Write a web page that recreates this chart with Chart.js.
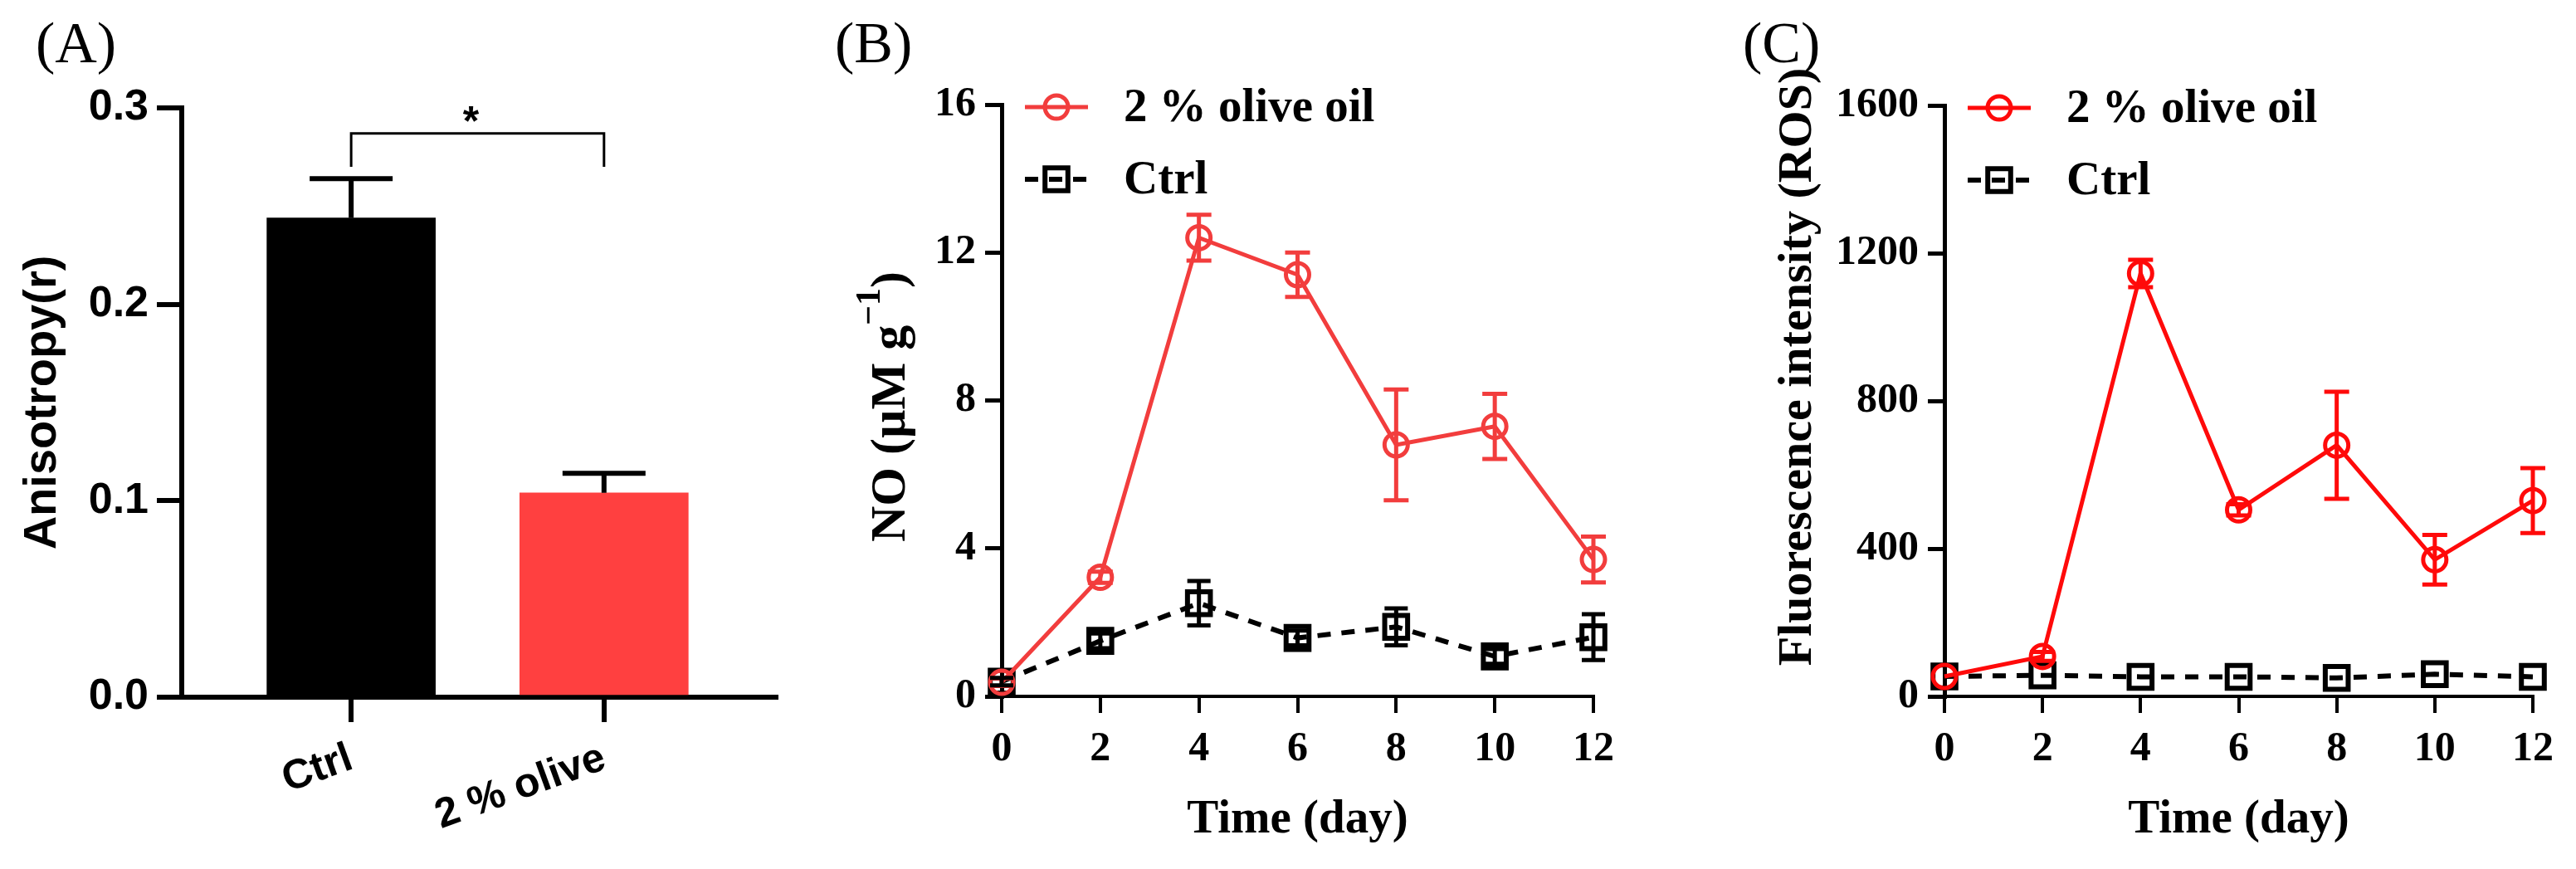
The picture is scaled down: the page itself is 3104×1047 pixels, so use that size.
<!DOCTYPE html>
<html>
<head>
<meta charset="utf-8">
<script src="https://cdn.jsdelivr.net/npm/chart.js@4.4.1/dist/chart.umd.min.js"></script>
<style>
    html, body { margin: 0; padding: 0; background: #fff; }
    body { width: 3104px; height: 1047px; position: relative; overflow: hidden; }
    canvas { position: absolute; top: 0; }
</style>
</head>
<body>
<canvas id="chart_a" width="960" height="1047" style="left: 0px;"></canvas>
<canvas id="chart_b" width="1100" height="1047" style="left: 960px;"></canvas>
<canvas id="chart_c" width="1044" height="1047" style="left: 2060px;"></canvas>
<script>
// DADOS
const grupos = ['Ctrl', '2 % olive'];
const anisotropia = [0.244, 0.104];
const anisotropia_erro = [0.020, 0.010];
const ticks_aniso = [0.0, 0.1, 0.2, 0.3];

const dias = [0, 2, 4, 6, 8, 10, 12];

const no_oliva = [0.38, 3.22, 12.4, 11.4, 6.8, 7.3, 3.7];
const no_oliva_erro = [0.1, 0.15, 0.62, 0.6, 1.5, 0.88, 0.62];
const no_ctrl = [0.4, 1.5, 2.52, 1.58, 1.88, 1.08, 1.6];
const no_ctrl_erro = [0.1, 0.2, 0.6, 0.2, 0.5, 0.2, 0.62];

const ros_oliva = [54, 108, 1145, 505, 680, 370, 530];
const ros_oliva_erro = [0, 12, 37, 15, 145, 67, 88];
const ros_ctrl = [54, 57, 53, 53, 50, 60, 53];

Chart.defaults.color = '#000';

const serif = 'Liberation Serif';
const sans = 'Liberation Sans';
const vermelho_b = '#F23D3D';
const vermelho_c = '#FF0A0A';

// barras de erro desenhadas por cima dos pontos
const barrasDeErro = {
    id: 'barrasDeErro',
    afterDatasetsDraw(chart) {
        const ctx = chart.ctx;
        const sx = chart.scales.x;
        const sy = chart.scales.y;
        chart.data.datasets.forEach((ds) => {
            if (!ds.erros) return;
            ctx.save();
            ctx.strokeStyle = ds.corErro || ds.borderColor;
            ctx.lineWidth = ds.larguraErro;
            ctx.setLineDash([]);
            ds.data.forEach((p, i) => {
                const e = ds.erros[i];
                if (!e) return;
                const px = sx.getPixelForValue(p.x);
                const topo = sy.getPixelForValue(p.y + e);
                const base = ds.soCima ? sy.getPixelForValue(p.y) : sy.getPixelForValue(p.y - e);
                ctx.beginPath();
                ctx.moveTo(px, base);
                ctx.lineTo(px, topo);
                ctx.moveTo(px - ds.capa, topo);
                ctx.lineTo(px + ds.capa, topo);
                if (!ds.soCima) {
                    ctx.moveTo(px - ds.capa, base);
                    ctx.lineTo(px + ds.capa, base);
                }
                ctx.stroke();
            });
            ctx.restore();
        });
    }
};

// (A) (B) (C)
const rotulo = {
    id: 'rotulo',
    afterDraw(chart, args, opts) {
        const ctx = chart.ctx;
        ctx.save();
        ctx.fillStyle = '#000';
        ctx.font = '70px "' + serif + '"';
        ctx.textBaseline = 'alphabetic';
        ctx.fillText(opts.texto, opts.x, opts.y);
        ctx.restore();
    }
};

// legenda com linha + marcador
const legendaLinhas = {
    id: 'legendaLinhas',
    afterDraw(chart, args, opts) {
        if (!opts.ativo) return;
        const ctx = chart.ctx;
        const a = chart.chartArea;
        chart.data.datasets.forEach((ds, i) => {
            const y = a.top + opts.topo + i * opts.passo;
            const x0 = a.left + opts.x0;
            const x1 = a.left + opts.x1;
            ctx.save();
            ctx.strokeStyle = ds.borderColor;
            ctx.lineWidth = ds.borderWidth;
            ctx.setLineDash(ds.borderDash || []);
            ctx.beginPath();
            ctx.moveTo(x0, y);
            ctx.lineTo(x1, y);
            ctx.stroke();
            ctx.setLineDash([]);
            ctx.lineWidth = ds.pointBorderWidth;
            ctx.strokeStyle = ds.pointBorderColor;
            ctx.fillStyle = 'rgba(0,0,0,0)';
            Chart.helpers.drawPoint(ctx, {
                pointStyle: ds.pointStyle,
                radius: ds.pointRadius,
                borderWidth: ds.pointBorderWidth,
                rotation: 0
            }, (x0 + x1) / 2, y);
            ctx.fillStyle = '#000';
            ctx.font = 'bold 57px "' + serif + '"';
            ctx.textBaseline = 'middle';
            ctx.fillText(ds.label, a.left + opts.xTexto, y + 2);
            ctx.restore();
        });
    }
};

// titulo vertical com sobrescrito
const tituloVertical = {
    id: 'tituloVertical',
    afterDraw(chart, args, opts) {
        if (!opts.partes) return;
        const ctx = chart.ctx;
        ctx.save();
        ctx.translate(opts.x, opts.y);
        ctx.rotate(-Math.PI / 2);
        let total = 0;
        opts.partes.forEach((p) => {
            ctx.font = p.fonte;
            total += ctx.measureText(p.texto).width;
        });
        let cx = -total / 2;
        ctx.fillStyle = '#000';
        ctx.textBaseline = 'alphabetic';
        opts.partes.forEach((p) => {
            ctx.font = p.fonte;
            ctx.fillText(p.texto, cx, -(p.sobe || 0));
            cx += ctx.measureText(p.texto).width;
        });
        ctx.restore();
    }
};

// colchete de significancia do painel A
const significancia = {
    id: 'significancia',
    afterDraw(chart, args, opts) {
        if (!opts.ativo) return;
        const ctx = chart.ctx;
        const sx = chart.scales.x;
        const sy = chart.scales.y;
        const xa = sx.getPixelForValue(0);
        const xb = sx.getPixelForValue(1);
        const yt = sy.getPixelForValue(opts.topo);
        const yb = sy.getPixelForValue(opts.pe);
        ctx.save();
        ctx.strokeStyle = '#000';
        ctx.lineWidth = 3;
        ctx.beginPath();
        ctx.moveTo(xa, yb);
        ctx.lineTo(xa, yt);
        ctx.lineTo(xb, yt);
        ctx.lineTo(xb, yb);
        ctx.stroke();
        ctx.fillStyle = '#000';
        ctx.font = 'bold 50px "' + sans + '"';
        ctx.textAlign = 'center';
        ctx.textBaseline = 'alphabetic';
        ctx.fillText('*', (xa + xb) / 2 - 8, yt + 2);
        ctx.restore();
    }
};

function eixoPreto(largura, tamanho) {
    return {
        grid: { display: true, drawOnChartArea: false, offset: false, color: '#000', lineWidth: largura, tickLength: tamanho },
        border: { display: true, color: '#000', width: largura }
    };
}

// GRAFICO A
new Chart(document.getElementById('chart_a'), {
    type: 'bar',
    data: {
        datasets: [{
            data: grupos.map((g, i) => ({ x: i, y: anisotropia[i] })),
            backgroundColor: ['#000000', '#FF4040'],
            barThickness: 203,
            erros: anisotropia_erro,
            soCima: true,
            capa: 50,
            larguraErro: 6,
            corErro: '#000'
        }]
    },
    options: {
        responsive: false,
        devicePixelRatio: 1,
        animation: false,
        layout: { padding: { left: 0, top: 130, right: 25, bottom: 0 } },
        plugins: {
            legend: { display: false },
            tooltip: { enabled: false },
            rotulo: { texto: '(A)', x: 43, y: 75 },
            significancia: { ativo: true, topo: 0.287, pe: 0.270 }
        },
        scales: {
            x: {
                type: 'linear',
                min: -0.67,
                max: 1.68,
                offset: false,
                afterBuildTicks: (s) => { s.ticks = grupos.map((g, i) => ({ value: i })); },
                afterFit: (s) => { s.height = 207; },
                ...eixoPreto(6, 30),
                ticks: {
                    autoSkip: false,
                    minRotation: 20,
                    maxRotation: 20,
                    padding: 14,
                    color: '#000',
                    font: { family: sans, weight: 'bold', size: 50 },
                    callback: (v) => grupos[v]
                }
            },
            y: {
                min: 0,
                max: 0.3,
                afterBuildTicks: (s) => { s.ticks = ticks_aniso.map((v) => ({ value: v })); },
                afterFit: (s) => { s.width = 219; },
                ...eixoPreto(6, 30),
                ticks: {
                    padding: 10,
                    color: '#000',
                    font: { family: sans, weight: 'bold', size: 52 },
                    callback: (v) => v.toFixed(1)
                },
                title: {
                    display: true,
                    text: 'Anisotropy(r)',
                    color: '#000',
                    font: { family: sans, weight: 'bold', size: 56, lineHeight: 1 },
                    padding: { top: 24, bottom: 0 }
                }
            }
        }
    },
    plugins: [barrasDeErro, rotulo, significancia]
});

function serieOliva(valores, erros, cor) {
    return {
        label: '2 % olive oil',
        data: dias.map((d, i) => ({ x: d, y: valores[i] })),
        borderColor: cor,
        borderWidth: 5,
        pointStyle: 'circle',
        pointRadius: 14,
        pointHoverRadius: 14,
        pointBorderWidth: 5,
        pointBorderColor: cor,
        pointBackgroundColor: 'rgba(0,0,0,0)',
        tension: 0,
        clip: false,
        erros: erros,
        capa: 15,
        larguraErro: 5
    };
}

function serieCtrl(valores, erros) {
    return {
        label: 'Ctrl',
        data: dias.map((d, i) => ({ x: d, y: valores[i] })),
        borderColor: '#000',
        borderWidth: 6,
        borderDash: [16, 13],
        pointStyle: 'rect',
        pointRadius: 19.5,
        pointHoverRadius: 19.5,
        pointBorderWidth: 6,
        pointBorderColor: '#000',
        pointBackgroundColor: 'rgba(0,0,0,0)',
        tension: 0,
        clip: false,
        erros: erros,
        capa: 14,
        larguraErro: 5
    };
}

function opcoesLinha(ymax, passo, larguraY, topo, direita, rotuloTxt, rotuloX, titulo) {
    return {
        responsive: false,
        devicePixelRatio: 1,
        animation: false,
        layout: { padding: { left: 0, top: topo, right: direita, bottom: 0 } },
        plugins: {
            legend: { display: false },
            tooltip: { enabled: false },
            rotulo: { texto: rotuloTxt, x: rotuloX, y: 75 },
            legendaLinhas: { ativo: true, topo: 3, passo: 87, x0: 28, x1: 104, xTexto: 147 },
            tituloVertical: titulo
        },
        scales: {
            x: {
                type: 'linear',
                min: 0,
                max: 12,
                afterFit: (s) => { s.height = 208; },
                ...eixoPreto(4, 20),
                ticks: {
                    stepSize: 2,
                    padding: 14,
                    color: '#000',
                    font: { family: serif, weight: 'bold', size: 50 }
                },
                title: {
                    display: true,
                    text: 'Time (day)',
                    color: '#000',
                    font: { family: serif, weight: 'bold', size: 57, lineHeight: 1 },
                    padding: { top: 0, bottom: 30 }
                }
            },
            y: {
                min: 0,
                max: ymax,
                afterFit: (s) => { s.width = larguraY; },
                ...eixoPreto(5, 20),
                ticks: {
                    stepSize: passo,
                    padding: 11,
                    color: '#000',
                    font: { family: serif, weight: 'bold', size: 50 },
                    callback: (v) => String(v)
                }
            }
        }
    };
}

// GRAFICO B
new Chart(document.getElementById('chart_b'), {
    type: 'line',
    data: {
        datasets: [
            serieOliva(no_oliva, no_oliva_erro, vermelho_b),
            serieCtrl(no_ctrl, no_ctrl_erro)
        ]
    },
    options: opcoesLinha(16, 4, 247, 126, 140, '(B)', 46, {
        x: 130,
        y: 490,
        partes: [
            { texto: 'NO (\u00B5M g', fonte: 'bold 60px "' + serif + '"' },
            { texto: '\u22121', fonte: 'bold 42px "' + serif + '"', sobe: 30 },
            { texto: ')', fonte: 'bold 60px "' + serif + '"' }
        ]
    }),
    plugins: [barrasDeErro, rotulo, legendaLinhas, tituloVertical]
});

// GRAFICO C
new Chart(document.getElementById('chart_c'), {
    type: 'line',
    data: {
        datasets: [
            serieOliva(ros_oliva, ros_oliva_erro, vermelho_c),
            serieCtrl(ros_ctrl, null)
        ]
    },
    options: opcoesLinha(1600, 400, 283, 127, 52, '(C)', 40, {
        x: 122,
        y: 442,
        partes: [
            { texto: 'Fluorescence intensity (ROS)', fonte: 'bold 58px "' + serif + '"' }
        ]
    }),
    plugins: [barrasDeErro, rotulo, legendaLinhas, tituloVertical]
});
</script>
</body>
</html>
